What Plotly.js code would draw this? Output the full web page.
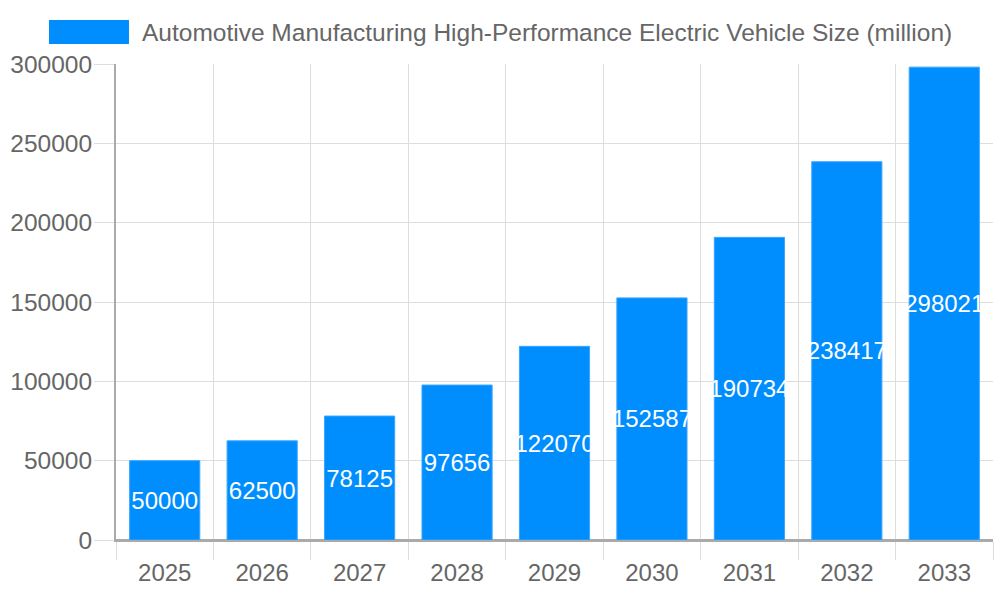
<!DOCTYPE html>
<html>
<head>
<meta charset="utf-8">
<script src="https://cdn.plot.ly/plotly-3.0.1.min.js"></script>
<style>
  html, body { margin: 0; padding: 0; background: #fff; }
  #chart { width: 1000px; height: 600px; }
</style>
</head>
<body>
<div id="chart"></div>
<script>
// data
const years = ["2025", "2026", "2027", "2028", "2029", "2030", "2031", "2032", "2033"];
const sizes = [50000, 62500, 78125, 97656, 122070, 152587, 190734, 238417, 298021];
const yTicks = [0, 50000, 100000, 150000, 200000, 250000, 300000];
const seriesName = "Automotive Manufacturing High-Performance Electric Vehicle Size (million)";

const blue = "#008eff";
const grey = "#666666";
const fontFamily = "Liberation Sans, Arial, sans-serif";

const bars = {
  type: "bar",
  x: years,
  y: sizes,
  width: 0.72,
  marker: { color: blue, line: { color: "#3aa6ff", width: 1 } },
  text: sizes.map(String),
  textposition: "inside",
  insidetextanchor: "middle",
  textangle: 0,
  textfont: { color: "#ffffff", size: 24, family: fontFamily },
  showlegend: false,
  hoverinfo: "x+y"
};

// legend entry: text only, the wide swatch is a shape below
const legendItem = {
  type: "scatter",
  mode: "lines",
  x: [null],
  y: [null],
  name: seriesName,
  line: { color: "rgba(0,0,0,0)", width: 1 },
  showlegend: true,
  hoverinfo: "skip"
};

const layout = {
  width: 1000,
  height: 600,
  margin: { l: 116, r: 7, t: 64, b: 60 },
  paper_bgcolor: "#ffffff",
  plot_bgcolor: "#ffffff",
  font: { family: fontFamily, size: 24, color: grey },
  showlegend: true,
  legend: {
    orientation: "h",
    x: -0.073,
    xref: "paper",
    xanchor: "left",
    y: 0.985,
    yref: "container",
    yanchor: "top",
    itemwidth: 80,
    font: { size: 24.5, color: grey },
    bgcolor: "rgba(0,0,0,0)"
  },
  shapes: [{
    type: "rect",
    xref: "paper", yref: "paper",
    x0: -0.0764, x1: 0.0148,
    y0: 1.042, y1: 1.0924,
    fillcolor: blue,
    line: { width: 0 }
  }],
  xaxis: {
    type: "category",
    tickson: "boundaries",
    ticks: "outside",
    ticklen: 18,
    tickwidth: 1,
    tickcolor: "#dddddd",
    ticklabelstandoff: 10,
    showgrid: true,
    gridcolor: "#dddddd",
    showline: true,
    linecolor: "#aaaaaa",
    linewidth: 2,
    tickfont: { size: 24, color: grey },
    fixedrange: true
  },
  yaxis: {
    range: [0, 300000],
    tickvals: yTicks,
    ticktext: yTicks.map(String),
    ticks: "outside",
    ticklen: 20,
    tickcolor: "#dddddd",
    ticklabelstandoff: -3,
    showgrid: true,
    gridcolor: "#dddddd",
    zeroline: true,
    zerolinecolor: "#aaaaaa",
    zerolinewidth: 2,
    showline: true,
    linecolor: "#aaaaaa",
    linewidth: 2,
    tickfont: { size: 24.5, color: grey },
    fixedrange: true
  },
  uniformtext: { mode: "show", minsize: 24 }
};

Plotly.newPlot("chart", [bars, legendItem], layout, { displayModeBar: false, staticPlot: true });
</script>
</body>
</html>
